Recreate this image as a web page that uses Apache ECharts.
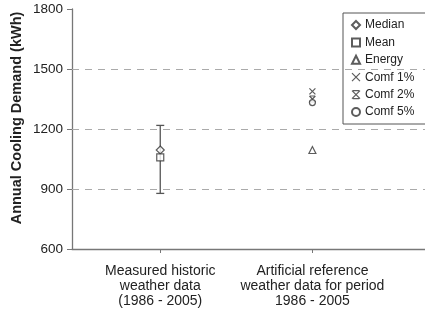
<!DOCTYPE html>
<html><head><meta charset="utf-8">
<script src="https://cdn.jsdelivr.net/npm/echarts@6/dist/echarts.min.js"></script>
<style>html,body{margin:0;padding:0;background:#fff}#c{width:425px;height:320px}</style>
</head><body><div id="c"></div>
<script>
var categories = ["Measured historic\nweather data\n(1986 - 2005)", "Artificial reference\nweather data for period\n1986 - 2005"];
var categoryPos = [1, 2];
var yTicks = [600, 900, 1200, 1500, 1800];
var gridValues = [900, 1200, 1500];
var errorRange = [[1, 878, 1218]];
var median = [[1, 1095]];
var mean = [[1, 1058]];
var energy = [[2, 1095]];
var comf1 = [[2, 1388]];
var comf2 = [[2, 1350]];
var comf5 = [[2, 1332]];

var ink = '#333';
var chart = echarts.init(document.getElementById('c'), null, {renderer: 'canvas'});
function scat(name, data, symbol, size, fill) {
  return {name: name, type: 'scatter', data: data, symbol: symbol, symbolSize: size,
    itemStyle: {color: fill || '#fff', borderColor: ink, borderWidth: 1.2}, z: 5};
}
var xPath = 'path://M0,0L10,10M10,0L0,10';
var starPath = 'path://M0,0L10,10M10,0L0,10M1,0L9,0M1,10L9,10';
var hollow = {color: 'transparent', borderColor: ink, borderWidth: 1.2};
chart.setOption({
  animation: false,
  textStyle: {fontFamily: 'Liberation Sans, Arial, sans-serif'},
  grid: {left: 72, right: 0, top: 9, bottom: 71},
  graphic: [{type: 'text', x: 17, y: 118, rotation: Math.PI / 2,
    style: {text: 'Annual Cooling Demand (kWh)', font: 'bold 14.5px Liberation Sans, Arial, sans-serif',
      fill: '#222', textAlign: 'center', textVerticalAlign: 'middle'}}],
  legend: {
    orient: 'vertical', left: 343, top: 13, padding: [5, 12, 5, 8],
    borderColor: '#555', borderWidth: 1, itemWidth: 8, itemHeight: 8, itemGap: 3.4,
    textStyle: {fontSize: 12, color: '#222', lineHeight: 14},
    data: ['Median', 'Mean', 'Energy',
      {name: 'Comf 1%', itemStyle: hollow},
      {name: 'Comf 2%', itemStyle: hollow},
      'Comf 5%']
  },
  xAxis: {
    type: 'value', min: 0.42, max: 2.74,
    axisLine: {lineStyle: {color: '#777', width: 1.3}},
    axisTick: {show: true, customValues: categoryPos, length: 4, lineStyle: {color: '#777'}},
    axisLabel: {customValues: categoryPos, margin: 15, fontSize: 14, color: '#222', lineHeight: 15,
      formatter: function (v) { return categories[categoryPos.indexOf(v)] || ''; }},
    splitLine: {show: false}
  },
  yAxis: {
    type: 'value', min: yTicks[0], max: yTicks[yTicks.length - 1], interval: 300,
    axisLine: {show: true, lineStyle: {color: '#777', width: 1.3}},
    axisTick: {show: true, length: 5, lineStyle: {color: '#777'}},
    axisLabel: {margin: 9, fontSize: 13.5, color: '#222', formatter: function (v) { return String(v); }},
    splitLine: {show: false}
  },
  series: [
    {type: 'custom', name: 'range', data: errorRange, z: 3,
      renderItem: function (params, api) {
        var x = api.value(0), lo = api.coord([x, api.value(1)]), hi = api.coord([x, api.value(2)]);
        var st = {stroke: '#555', lineWidth: 1.3};
        return {type: 'group', children: [
          {type: 'line', shape: {x1: lo[0], y1: lo[1], x2: hi[0], y2: hi[1]}, style: st},
          {type: 'line', shape: {x1: lo[0] - 4, y1: lo[1], x2: lo[0] + 4, y2: lo[1]}, style: st},
          {type: 'line', shape: {x1: hi[0] - 4, y1: hi[1], x2: hi[0] + 4, y2: hi[1]}, style: st}
        ]};
      }},
    {type: 'line', name: 'grid', data: [], silent: true,
      markLine: {silent: true, symbol: 'none', label: {show: false},
        lineStyle: {color: '#aaa', type: [7, 6], width: 1.2},
        data: gridValues.map(function (v) { return {yAxis: v}; })}},
    scat('Median', median, 'diamond', 8),
    scat('Mean', mean, 'rect', 7),
    scat('Energy', energy, 'triangle', 7),
    scat('Comf 1%', comf1, xPath, 6, 'transparent'),
    scat('Comf 2%', comf2, starPath, 6, 'transparent'),
    scat('Comf 5%', comf5, 'circle', 6)
  ]
});
</script></body></html>
